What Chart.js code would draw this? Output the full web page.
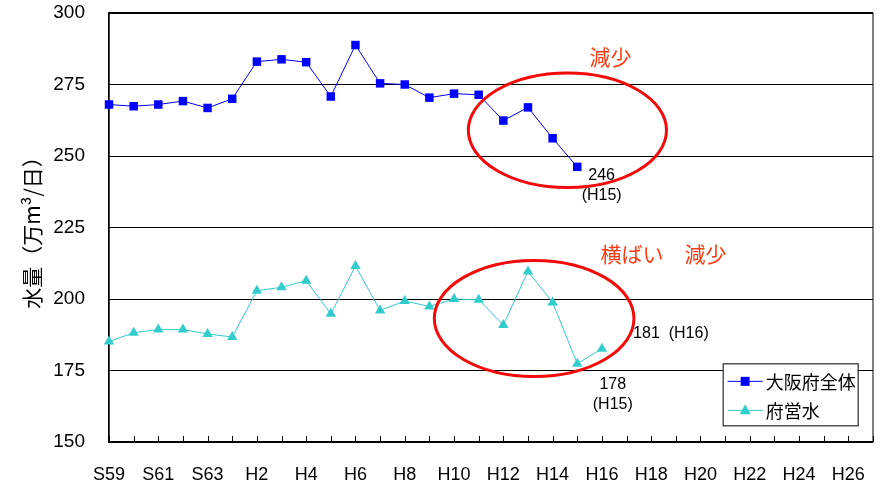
<!DOCTYPE HTML>
<html>
<head>
<meta charset="utf-8">
<title>水量の推移</title>
<script src="https://cdn.jsdelivr.net/npm/chart.js@4/dist/chart.umd.min.js"></script>
<style>
  body { margin: 0; background: #fff; }
  #wrap { width: 888px; height: 486px; }
</style>
</head>
<body>
<div id="wrap"><canvas id="myChart"></canvas></div>
<script>
  // fiscal years S59 .. H27
  const years = ['S59','S60','S61','S62','S63','H1','H2','H3','H4','H5','H6','H7','H8','H9','H10','H11',
                 'H12','H13','H14','H15','H16','H17','H18','H19','H20','H21','H22','H23','H24','H25','H26','H27'];
  const osakaTotal = [268, 267.4, 268, 269.2, 266.8, 270, 283, 283.8, 282.8, 270.8, 288.8, 275.4, 275, 270.4, 271.8, 271.4,
                      262.4, 267, 256.2, 246.2];
  const prefWater = [185.1, 188.2, 189.3, 189.3, 187.8, 186.7, 202.9, 204.1, 206.4, 194.8, 211.5, 196, 199.3, 197.4, 200, 199.7,
                     190.9, 209.6, 198.8, 177.4, 182.6];
  const yTicks = [150, 175, 200, 225, 250, 275, 300];

  const RED = 'rgb(245,10,10)';
  const ORANGE = 'rgb(255,60,20)';
  const FONT = "'Liberation Sans', Arial, sans-serif";
  const JFONT = "'Noto Sans CJK JP', 'Liberation Sans', sans-serif";

  // annotations in data units (x = category index, y = value)
  const ellipses = [
    { cx: 18.6, cy: 259.0, rx: 4.02, ry: 20.0 },
    { cx: 17.25, cy: 193.2, rx: 4.05, ry: 20.3 }
  ];
  const notes = [
    { x: 20.35, y: 284.6, text: '減少', size: 21, color: ORANGE, font: JFONT },
    { x: 22.5, y: 215.8, text: '横ばい　減少', size: 21, color: ORANGE, font: JFONT },
    { x: 19.99, y: 243.3, text: '246', size: 16, color: '#000', font: FONT },
    { x: 19.99, y: 236.0, text: '(H15)', size: 16, color: '#000', font: FONT },
    { x: 22.8, y: 188.0, text: '181  (H16)', size: 16, color: '#000', font: FONT },
    { x: 20.44, y: 170.0, text: '178', size: 16, color: '#000', font: FONT },
    { x: 20.44, y: 163.0, text: '(H15)', size: 16, color: '#000', font: FONT }
  ];

  const extras = {
    id: 'extras',
    beforeDatasetsDraw(chart) {
      const { ctx, chartArea: a, scales: { x, y } } = chart;
      ctx.save();
      // plot frame
      ctx.strokeStyle = '#000';
      ctx.lineWidth = 1;
      ctx.strokeRect(a.left, a.top, a.right - a.left, a.bottom - a.top);
      ctx.lineWidth = 2;
      ctx.beginPath(); ctx.moveTo(a.left, a.top); ctx.lineTo(a.right, a.top); ctx.stroke();
      ctx.beginPath(); ctx.moveTo(a.left, a.bottom); ctx.lineTo(a.right, a.bottom); ctx.stroke();
      // little ticks on bottom axis
      ctx.lineWidth = 1;
      for (let i = 0; i < years.length; i++) {
        const px = Math.round(x.getPixelForValue(i)) + 0.5;
        ctx.beginPath(); ctx.moveTo(px, a.bottom); ctx.lineTo(px, a.bottom - 6); ctx.stroke();
      }
      ctx.restore();
    },
    afterDatasetsDraw(chart) {
      const { ctx, scales: { x, y } } = chart;
      const unitX = x.getPixelForValue(1) - x.getPixelForValue(0);
      const unitY = y.getPixelForValue(150) - y.getPixelForValue(151);
      ctx.save();
      ctx.strokeStyle = RED;
      ctx.lineWidth = 3;
      ellipses.forEach(e => {
        ctx.beginPath();
        ctx.ellipse(x.getPixelForValue(e.cx), y.getPixelForValue(e.cy), e.rx * unitX, e.ry * unitY, 0, 0, Math.PI * 2);
        ctx.stroke();
      });
      ctx.textAlign = 'center';
      ctx.textBaseline = 'middle';
      notes.forEach(n => {
        ctx.fillStyle = n.color;
        ctx.font = n.size + 'px ' + n.font;
        ctx.fillText(n.text, x.getPixelForValue(n.x), y.getPixelForValue(n.y));
      });

      // legend box in the lower right corner
      const bx = x.getPixelForValue(24.9), by = y.getPixelForValue(177.5);
      const bw = 135, bh = 62;
      ctx.fillStyle = '#fff';
      ctx.fillRect(bx, by, bw, bh);
      ctx.strokeStyle = '#000';
      ctx.lineWidth = 1;
      ctx.strokeRect(bx + 0.5, by + 0.5, bw, bh);
      chart.data.datasets.forEach((ds, i) => {
        const ly = by + 18 + i * 29;
        ctx.strokeStyle = ds.borderColor;
        ctx.beginPath(); ctx.moveTo(bx + 5, ly); ctx.lineTo(bx + 40, ly); ctx.stroke();
        ctx.fillStyle = ds.backgroundColor;
        ctx.beginPath();
        if (ds.pointStyle === 'rect') {
          ctx.rect(bx + 18, ly - 4.5, 9, 9);
        } else {
          ctx.moveTo(bx + 22.5, ly - 6); ctx.lineTo(bx + 28, ly + 4); ctx.lineTo(bx + 17, ly + 4); ctx.closePath();
        }
        ctx.fill();
        ctx.fillStyle = '#000';
        ctx.textAlign = 'left';
        ctx.font = '18px ' + JFONT;
        ctx.fillText(ds.label, bx + 43, ly + 1);
      });
      ctx.restore();
    }
  };

  const config = {
    type: 'line',
    data: {
      labels: years,
      datasets: [{
        label: '大阪府全体',
        data: osakaTotal,
        borderColor: 'rgb(0,0,255)',
        backgroundColor: 'rgb(0,0,255)',
        borderWidth: 1,
        pointStyle: 'rect',
        pointRadius: 6,
        pointBorderWidth: 0,
        tension: 0
      }, {
        label: '府営水',
        data: prefWater,
        borderColor: 'rgb(51,204,204)',
        backgroundColor: 'rgb(51,204,204)',
        borderWidth: 1,
        pointStyle: 'triangle',
        pointRadius: 6,
        pointBorderWidth: 0,
        tension: 0
      }]
    },
    options: {
      responsive: true,
      maintainAspectRatio: false,
      animation: false,
      layout: { padding: { top: 13, right: 15, left: 0, bottom: 0 } },
      plugins: {
        legend: { display: false },
        tooltip: { enabled: false }
      },
      scales: {
        x: {
          offset: false,
          grid: { display: false },
          border: { display: false },
          ticks: {
            autoSkip: false,
            maxRotation: 0,
            color: '#000',
            padding: 14,
            font: { family: FONT, size: 18 },
            callback: (v, i) => (i % 2 === 0 ? years[i] : '')
          },
          afterFit: s => { s.height = 44; s.paddingLeft = 0; s.paddingRight = 0; }
        },
        y: {
          min: 150,
          max: 300,
          afterBuildTicks: s => { s.ticks = yTicks.map(v => ({ value: v })); },
          grid: { color: '#000', lineWidth: 1, drawTicks: false },
          border: { display: true, color: '#000', width: 1.5 },
          ticks: {
            color: '#000',
            padding: 24,
            font: { family: FONT, size: 19 }
          },
          title: {
            display: true,
            text: '水量（万m³/日）',
            color: '#000',
            font: { family: JFONT, size: 21 },
            padding: { top: 19, bottom: 0 }
          },
          afterFit: s => { s.width = 109; s.paddingTop = 0; s.paddingBottom = 0; }
        }
      }
    },
    plugins: [extras]
  };

  const myChart = new Chart(document.getElementById('myChart'), config);
</script>
</body>
</html>
